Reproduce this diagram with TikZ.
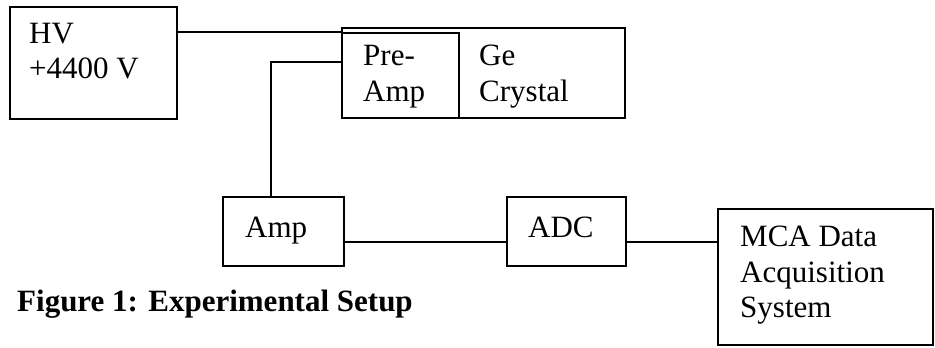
\documentclass[tikz,border=0pt]{standalone}
\usepackage{fontspec}
\setmainfont{Liberation Serif}
\begin{document}
\begin{tikzpicture}[x=1pt,y=-1pt,
  box/.style={draw,line width=1.8pt,rectangle,inner sep=0pt},
  wire/.style={line width=1.8pt},
  lbl/.style={anchor=base west,inner sep=0pt,font=\fontsize{31}{36}\selectfont},
  captext/.style={anchor=base west,inner sep=0pt,font=\fontsize{31}{36}\selectfont\bfseries}]
\useasboundingbox[fill=white] (0,0) rectangle (935,348);
% boxes
\node[box,minimum width=167pt,minimum height=112pt] (hv) at (93.5,63) {};
\node[box,minimum width=283pt,minimum height=90pt] (det) at (483.5,73) {};
\node[box,minimum width=117pt,minimum height=85pt] (pre) at (400.5,75.5) {};
\node[box,minimum width=121pt,minimum height=69pt] (amp) at (283.5,231.5) {};
\node[box,minimum width=119pt,minimum height=69pt] (adc) at (566.5,231.5) {};
\node[box,minimum width=215pt,minimum height=136pt] (mca) at (825.5,277) {};
% texts
\node[lbl] (thv) at (29,43) {HV};
\node[lbl] (thv2) at (29,78) {+4400 V};
\node[lbl] (tpre) at (363,65) {Pre-};
\node[lbl] (tpre2) at (363,101) {Amp};
\node[lbl] (tge) at (479,65) {Ge};
\node[lbl] (tge2) at (479,101) {Crystal};
\node[lbl] (tamp) at (245,237) {Amp};
\node[lbl] (tadc) at (528,237) {ADC};
\node[lbl] (tmca) at (740,246) {MCA Data};
\node[lbl] (tmca2) at (740,282) {Acquisition};
\node[lbl] (tmca3) at (740,317) {System};
\node[captext] (caption) at (17,311) {Figure 1: Experimental Setup};
% connectors
\draw[wire] (hv.east |- pre.north west) -- (pre.north west);
\coordinate (pw) at ([yshift=13.5pt]pre.west);
\draw[wire] (pw) -| ([xshift=-12.5pt]amp.north);
\coordinate (ampout) at ([yshift=-10.5pt]amp.east);
\coordinate (adcout) at ([yshift=-10.5pt]adc.east);
\draw[wire] (ampout) -- (adc.west |- ampout);
\draw[wire] (adcout) -- (mca.west |- adcout);
\end{tikzpicture}
\end{document}
